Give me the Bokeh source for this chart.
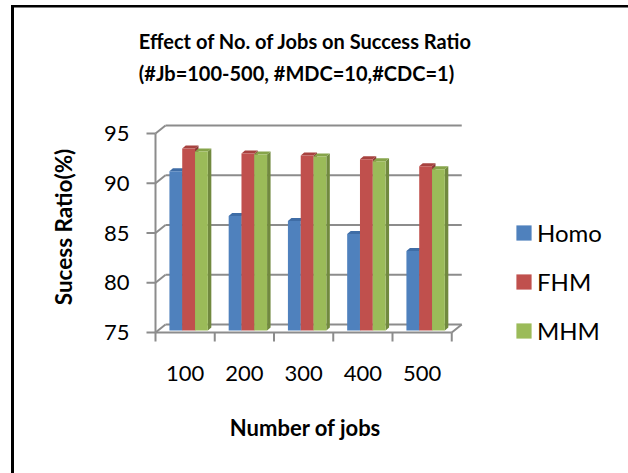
from bokeh.plotting import figure
from bokeh.layouts import row
from bokeh.models import Range1d, FixedTicker, Legend, LegendItem, Title
from bokeh.embed import file_html
from bokeh.resources import INLINE

# ---------------- data ----------------
categories = ["100", "200", "300", "400", "500"]
series_names = ["Homo", "FHM", "MHM"]
homo = [91.0, 86.5, 86.0, 84.7, 83.0]
fhm = [93.3, 92.8, 92.6, 92.2, 91.5]
mhm = [93.0, 92.7, 92.5, 92.0, 91.2]
y_ticks = [75, 80, 85, 90, 95]
title_lines = ["Effect of No. of Jobs on Success Ratio", "(#Jb=100-500, #MDC=10,#CDC=1)"]

# ---------------- styling / geometry (pixels) ----------------
W, H = 628, 473
W1 = 506                                  # width of the chart part; legend part gets the rest
FL, FR, FT, FB = 140, 470, 108, 345       # plot frame
X0PX, CATW = 155.0, 59.25                 # left edge of first category, width of a category
Y0PX, PPU = 332.0, 9.95                   # pixel of the axis floor, pixels per unit
WALL_DX, WALL_DY = 10.0, 8.0              # back wall offset
BAR_DX, BAR_DY = 3.5, 2.0                 # bar depth position
BAR_W = 12.8
DEP_X, DEP_Y = 3.5, 3.0                   # bar thickness (3D)
TICK = 9.0
FONT = "Lato"
GRID = "#8c8c8c"

front_cols = ["#4F81BD", "#C0504D", "#9BBB59"]
top_cols = ["#3F6DA6", "#A7423F", "#86A44A"]
side_cols = ["#385D8A", "#8C3836", "#71893F"]

ymin = y_ticks[0]
x_range = Range1d(0.5 - (X0PX - FL) / CATW, 0.5 + (FR - X0PX) / CATW)
y_range = Range1d(ymin - (FB - Y0PX) / PPU, ymin + (Y0PX - FT) / PPU)

dxw, dyw = WALL_DX / CATW, WALL_DY / PPU
dxb, dyb = BAR_DX / CATW, BAR_DY / PPU
bw = BAR_W / CATW
ddx, ddy = DEP_X / CATW, DEP_Y / PPU
tx, ty = TICK / CATW, TICK / PPU
n = len(categories)

p = figure(width=W1, height=H, x_range=x_range, y_range=y_range,
           output_backend="svg", toolbar_location=None,
           min_border_left=FL, min_border_right=W1 - FR,
           min_border_top=FT, min_border_bottom=H - FB)
p.outline_line_color = None
p.xgrid.visible = False
p.ygrid.visible = False
p.background_fill_alpha = 0
p.border_fill_alpha = 0
# the default (empty) title only acts as a tiny spacer above the real title
p.title.standoff = 0
p.title.text_font_size = "1px"

# title (two lines)
t = Title(text="\n".join(title_lines), align="center", text_font=FONT,
          text_font_size="20px", text_font_style="bold", text_color="black",
          text_line_height=1.35, standoff=46)
p.add_layout(t, "above")

# ---------------- back wall gridlines, 3D tick connectors ----------------
p.segment(x0=[0.5 + dxw] * len(y_ticks), y0=[v + dyw for v in y_ticks],
          x1=[n + 0.5 + dxw] * len(y_ticks), y1=[v + dyw for v in y_ticks],
          line_color=GRID, line_width=2)
p.segment(x0=[0.5] * len(y_ticks), y0=y_ticks,
          x1=[0.5 + dxw] * len(y_ticks), y1=[v + dyw for v in y_ticks],
          line_color=GRID, line_width=2)
p.segment(x0=[0.5 - tx] * len(y_ticks), y0=y_ticks, x1=[0.5] * len(y_ticks), y1=y_ticks,
          line_color=GRID, line_width=2)
p.segment(x0=[0.5], y0=[y_ticks[0]], x1=[0.5], y1=[y_ticks[-1]], line_color=GRID, line_width=2)
p.segment(x0=[0.5, n + 0.5], y0=[ymin, ymin], x1=[n + 0.5, n + 0.5 + dxw], y1=[ymin, ymin + dyw],
          line_color=GRID, line_width=2)
bnd = [i + 0.5 for i in range(n + 1)]
p.segment(x0=bnd, y0=[ymin] * len(bnd), x1=bnd, y1=[ymin - ty] * len(bnd),
          line_color=GRID, line_width=2)

# ---------------- 3D bars ----------------
bar_x = []
for k, vals in enumerate([homo, fhm, mhm]):
    xc = [i + 1 + dxb + (k - 1) * bw for i in range(n)]
    bar_x.append(xc)
    xl = [c - bw / 2 for c in xc]
    xr = [c + bw / 2 for c in xc]
    bot = ymin + dyb
    top = [v + dyb for v in vals]
    side_xs = [[r, r, r + ddx, r + ddx] for r in xr]
    side_ys = [[bot, tp, tp + ddy, bot + ddy] for tp in top]
    p.patches(xs=side_xs, ys=side_ys, fill_color=side_cols[k], line_color=None)
    top_xs = [[l, r, r + ddx, l + ddx] for l, r in zip(xl, xr)]
    top_ys = [[tp, tp, tp + ddy, tp + ddy] for tp in top]
    p.patches(xs=top_xs, ys=top_ys, fill_color=top_cols[k], line_color=None)
    p.vbar(x=xc, width=bw, bottom=bot, top=top, fill_color=front_cols[k], line_color=None)

# ---------------- axes ----------------
xa = p.xaxis[0]
xa.ticker = FixedTicker(ticks=list(range(1, n + 1)))
xa.major_label_overrides = {i + 1: c for i, c in enumerate(categories)}
xa.axis_line_color = None
xa.major_tick_line_color = None
xa.minor_tick_line_color = None
xa.major_tick_out = 0
xa.major_tick_in = 0
xa.major_label_text_font = FONT
xa.major_label_text_font_size = "22px"
xa.major_label_text_color = "black"
xa.major_label_standoff = 20
xa.axis_label = "Number of jobs"
xa.axis_label_text_font = FONT
xa.axis_label_text_font_size = "22px"
xa.axis_label_text_font_style = "bold"
xa.axis_label_text_color = "black"
xa.axis_label_standoff = 30

ya = p.yaxis[0]
ya.ticker = FixedTicker(ticks=y_ticks)
ya.axis_line_color = None
ya.major_tick_line_color = None
ya.minor_tick_line_color = None
ya.major_tick_out = 0
ya.major_tick_in = 0
ya.major_label_text_font = FONT
ya.major_label_text_font_size = "22px"
ya.major_label_text_color = "black"
ya.major_label_standoff = 11
ya.axis_label = "Sucess Ratio(%)"
ya.axis_label_text_font = FONT
ya.axis_label_text_font_size = "22.5px"
ya.axis_label_text_font_style = "bold"
ya.axis_label_text_color = "black"
ya.axis_label_standoff = 24

# ---------------- legend (separate narrow panel on the right) ----------------
# The same series are drawn here far outside the visible range, so only their legend keys show.
p2 = figure(width=W - W1, height=H, x_range=Range1d(-3, -2), y_range=Range1d(-3, -2),
            output_backend="svg", toolbar_location=None,
            x_axis_location=None, y_axis_location=None, min_border=0)
p2.outline_line_color = None
p2.grid.visible = False
p2.background_fill_alpha = 0
p2.border_fill_alpha = 0
legend_items = []
for k, (name, vals) in enumerate(zip(series_names, [homo, fhm, mhm])):
    r = p2.vbar(x=bar_x[k], bottom=ymin, top=vals, width=bw,
                fill_color=front_cols[k], line_color=None)
    legend_items.append(LegendItem(label=name, renderers=[r]))
legend = Legend(items=legend_items, location=(8, 0), orientation="vertical",
                glyph_width=19, glyph_height=19, label_height=20, spacing=20,
                label_standoff=4, padding=0, margin=0,
                border_line_color=None, background_fill_alpha=0,
                label_text_font=FONT, label_text_font_size="24px", label_text_color="black")
p2.add_layout(legend, "center")

layout = row(p, p2, spacing=0)
# outer chart-area border (left and top edges visible)
layout.styles = {
    "background-color": "white",
    "background-image": "linear-gradient(#000, #000), linear-gradient(#000, #000)",
    "background-size": "3px 100%, 100% 2.5px",
    "background-position": "11px 5px, 11px 5px",
    "background-repeat": "no-repeat",
}

open("out.html", "w").write(file_html(layout, INLINE))
